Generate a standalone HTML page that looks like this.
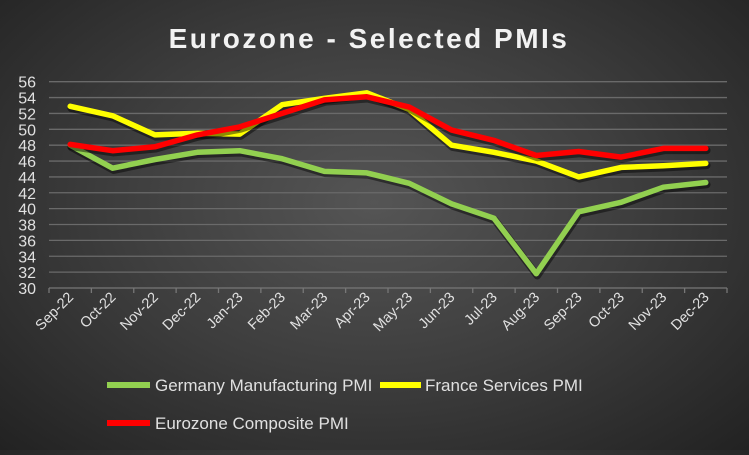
<!DOCTYPE html>
<html><head><meta charset="utf-8"><style>
html,body{margin:0;padding:0}
body{width:749px;height:450px;overflow:hidden;background:radial-gradient(ellipse at 50% 45%,#555 0%,#3d3d3d 50%,#222 100%);font-family:"Liberation Sans",sans-serif}
</style></head><body>
<svg id="chart" width="749" height="450" xmlns="http://www.w3.org/2000/svg">
<text x="369" y="48" text-anchor="middle" fill="#f2f2f2" font-size="28" font-weight="bold" letter-spacing="2.5" font-family="Liberation Sans, sans-serif">Eurozone - Selected PMIs</text>
<g id="grid"></g>
<g id="yaxis"></g>
<g id="xaxis"></g>
<g id="series"></g>
<g font-size="17" fill="#e0e0e0" font-family="Liberation Sans, sans-serif">
<g><line x1="107" y1="385" x2="150" y2="385" stroke="#92d050" stroke-width="6"/><text x="155" y="391">Germany Manufacturing PMI</text></g>
<g><line x1="380" y1="385" x2="421" y2="385" stroke="#ffff00" stroke-width="6"/><text x="425" y="391">France Services PMI</text></g>
<g><line x1="107" y1="423" x2="150" y2="423" stroke="#ff0000" stroke-width="6"/><text x="155" y="429">Eurozone Composite PMI</text></g>
</g>
</svg>
<script>
const categories=["Sep-22","Oct-22","Nov-22","Dec-22","Jan-23","Feb-23","Mar-23","Apr-23","May-23","Jun-23","Jul-23","Aug-23","Sep-23","Oct-23","Nov-23","Dec-23"];
const germany=[48.0,45.1,46.2,47.1,47.3,46.3,44.7,44.5,43.2,40.6,38.8,31.8,39.6,40.8,42.7,43.3];
const france=[52.9,51.7,49.3,49.5,49.4,53.1,53.9,54.6,52.5,48.0,47.1,46.0,44.0,45.2,45.4,45.7];
const eurozone=[48.1,47.3,47.8,49.3,50.3,52.0,53.7,54.1,52.8,49.9,48.6,46.7,47.2,46.5,47.6,47.6];
const yTicks=[30,32,34,36,38,40,42,44,46,48,50,52,54,56];
const NS="http://www.w3.org/2000/svg";
const L=49,R=727,T=81.7,B=288,YMIN=30,YMAX=56;
const bw=(R-L)/categories.length;
function xs(i){return L+bw*(i+0.5);}
function ys(v){return B-(v-YMIN)/(YMAX-YMIN)*(B-T);}
function mk(tag,attrs,parent){const e=document.createElementNS(NS,tag);for(const k in attrs)e.setAttribute(k,attrs[k]);parent.appendChild(e);return e;}
const grid=document.getElementById('grid'),ya=document.getElementById('yaxis'),xa=document.getElementById('xaxis'),sg=document.getElementById('series');
yTicks.forEach(t=>{
  if(t>YMIN){const l=mk('line',{x1:L,x2:R,y1:ys(t),y2:ys(t),stroke:'#6a6a6a','stroke-width':1.3},grid);
  
  }
  const tx=mk('text',{x:36,y:ys(t)+6,'text-anchor':'end',fill:'#e0e0e0','font-size':16},ya);
  tx.textContent=t;
  
  
});
const ax=mk('line',{x1:L,x2:R,y1:B,y2:B,stroke:'#777','stroke-width':1.3},xa);


for(let i=0;i<=categories.length;i++){
  const tk=mk('line',{x1:L+bw*i,x2:L+bw*i,y1:B,y2:B+5,stroke:'#777','stroke-width':1.3},xa);
  
  
}
categories.forEach((c,i)=>{
  const x=xs(i)+4,y=B+10;
  const tx=mk('text',{x:x,y:y,'text-anchor':'end',fill:'#e0e0e0','font-size':14.5,transform:`rotate(-45 ${x} ${y})`},xa);
  tx.textContent=c;
  
  
});
function draw(data,color,name){
  const d=data.map((v,i)=>(i?'L':'M')+xs(i).toFixed(1)+','+ys(v).toFixed(1)).join(' ');
  const sh=mk('path',{d:d,fill:'none',stroke:'rgba(0,0,0,0.45)','stroke-width':7.5,'stroke-linejoin':'round','stroke-linecap':'round',transform:'translate(1,2)'},sg);
  
  
  const p=mk('path',{d:d,fill:'none',stroke:color,'stroke-width':5.5,'stroke-linejoin':'round','stroke-linecap':'round'},sg);
  
  
}
draw(germany,'#92d050','germany-manufacturing-line');
draw(france,'#ffff00','france-services-line');
draw(eurozone,'#ff0000','eurozone-composite-line');
</script>
</body></html>
